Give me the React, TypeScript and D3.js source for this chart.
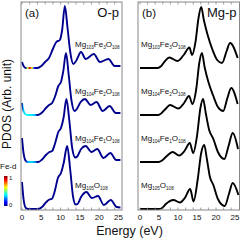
import React from 'react';
import * as d3 from 'd3';

// energy (eV), PDOS height (arb. units)
const oFe3 = [[0,0.6],[0.4,0.2],[1.0,0],[4.0,0],[5.0,0.2],[6.0,0.6],[7.0,1.0],[8.0,1.9],[8.9,2.6],[9.8,2.8],[10.4,3.8],[11.1,6.2],[11.8,4.0],[12.5,1.6],[13.3,0.4],[14.0,0.7],[15.3,1.6],[16.5,0.9],[18.6,1.4],[20.2,0.6],[22.4,0.9],[24.0,0.2],[25.5,0.2]];
const oFe2 = [[0,1.2],[0.4,0.4],[1.0,0.05],[1.6,0],[4.1,0],[5.2,0.25],[6.2,0.7],[7.0,1.0],[7.8,1.2],[8.6,1.9],[9.4,2.9],[10.1,3.3],[10.7,4.4],[11.4,6.2],[12.1,4.0],[12.8,1.5],[13.6,0.4],[14.2,0.6],[15.2,1.3],[16.3,1.6],[17.8,1.0],[19.3,1.3],[20.9,0.4],[22.7,0.9],[24.3,0.2],[25.5,0.2]];
const oFe1 = [[0,2.4],[0.4,0.9],[1.0,0.1],[1.6,0],[4.2,0],[5.2,0.25],[6.2,0.7],[7.1,1.0],[7.8,1.1],[8.6,1.9],[9.4,3.0],[10.1,3.4],[10.8,4.5],[11.5,6.3],[12.3,4.0],[13.0,1.4],[13.8,0.45],[14.3,0.55],[15.3,1.3],[16.5,1.6],[18.0,1.0],[19.5,1.3],[21.1,0.4],[22.9,0.9],[24.4,0.2],[25.5,0.2]];
const oMg = [[0,2.7],[0.4,1.0],[1.0,0.1],[1.6,0],[4.2,0],[5.2,0.2],[6.3,0.7],[7.1,0.95],[7.7,1.0],[8.5,1.8],[9.3,3.1],[10.1,3.6],[10.8,4.6],[11.7,6.3],[12.5,3.9],[13.2,1.3],[13.9,0.45],[14.4,0.5],[15.3,1.2],[16.7,1.7],[18.1,1.1],[19.7,1.3],[21.2,0.4],[23.0,0.9],[24.5,0.2],[25.5,0.15]];

const mgFe3 = [[0,0],[4.6,0],[5.6,0.2],[6.6,0.7],[7.7,1.05],[9.9,0.7],[11.5,1.3],[13.0,2.05],[13.7,1.3],[14.6,2.6],[15.4,5.0],[16.1,6.1],[16.8,4.8],[17.8,3.3],[19.1,1.8],[20.3,0.8],[21.6,0.5],[22.8,1.7],[23.7,2.5],[25.7,1.0]];
const mgFe2 = [[0,0],[4.8,0],[5.7,0.2],[6.7,0.6],[7.9,1.0],[10.1,0.65],[11.6,1.2],[12.9,1.9],[13.8,1.1],[14.8,2.6],[15.6,5.2],[16.3,6.2],[17.0,4.8],[18.0,3.3],[19.2,2.0],[20.5,0.8],[21.9,0.4],[23.0,1.7],[24.0,2.7],[25.7,1.1]];
const mgFe1 = [[0,0],[4.9,0],[5.8,0.15],[6.8,0.5],[8.6,1.0],[10.3,0.65],[11.7,1.1],[13.1,1.9],[14.0,0.9],[15.0,2.6],[15.9,5.4],[16.6,6.3],[17.3,4.9],[18.2,3.2],[19.3,2.3],[20.5,1.0],[22.2,0.3],[23.3,1.6],[24.4,2.9],[25.8,1.3]];
const mgMg = [[0,0],[5.0,0],[5.8,0.1],[6.8,0.5],[8.8,0.9],[10.5,0.65],[11.8,1.1],[13.2,2.0],[14.1,0.75],[15.2,3.0],[16.1,5.6],[16.9,6.4],[17.6,5.0],[18.4,3.2],[19.3,2.4],[20.5,1.0],[22.3,0.3],[23.4,1.5],[24.4,2.6],[25.9,1.4]];

// Fe-d weight along the O-p curves (0..1)
const wFe3 = [[0,0],[0.9,0],[1.4,0.55],[2.0,0.9],[2.6,0.6],[3.2,0.15],[3.7,0]];
const wFe2 = [[0,0],[0.3,0.3],[1.0,0.38],[2.5,0.36],[3.4,0.3],[4.0,0]];
const wFe1 = [[0,0],[1.0,0],[1.5,0.3],[2.6,0.34],[3.5,0.25],[4.0,0]];
const wMg: number[][] = [[0,0]];

const oCurves = [oFe3, oFe2, oFe1, oMg];
const mgCurves = [mgFe3, mgFe2, mgFe1, mgMg];
const weights = [wFe3, wFe2, wFe1, wMg];
const offsets = [14.1, 9.4, 4.7, 0];
const labels = [['Mg','103','Fe','3','O','108'], ['Mg','104','Fe','2','O','108'], ['Mg','104','Fe','1','O','108'], ['Mg','105','O','108']];
const xTicks = [0, 5, 10, 15, 20, 25];
const jetColors = ['#00008f', '#0000ff', '#00ffff', '#ffff00', '#ff0000', '#800000'];

const jet = d3.scaleLinear<string>().domain([0, 0.125, 0.375, 0.625, 0.875, 1]).range(jetColors);

const top = 2, bottom = 210;
const y = d3.scaleLinear().domain([-0.1, 20.7]).range([bottom, top]);
const xA = d3.scaleLinear().domain([0, 25]).range([22, 118.5]);
const xB = d3.scaleLinear().domain([0, 25]).range([140, 235]);
const frameA = [21, 122];
const frameB = [138, 239.5];
const font = 'Liberation Sans, Arial, Helvetica, sans-serif';

const Label = ({ parts, x, yy }: { parts: string[]; x: number; yy: number }) => (
  <text x={x} y={yy} fontSize={8} fontFamily={font} fill="#111">
    {parts.map((p, i) => i % 2 === 0
      ? <tspan key={i} dy={i === 0 ? 0 : -2}>{p}</tspan>
      : <tspan key={i} dy={2} fontSize={4.6}>{p}</tspan>)}
  </text>
);

const Panel = ({ x, frame, curves, id, colored, tag, title }: any) => {
  const ticks = d3.range(0, 26, 2);
  return (
    <g>
      <defs>
        <clipPath id={'clip' + id}>
          <rect x={frame[0]} y={top} width={frame[1] - frame[0]} height={bottom - top} />
        </clipPath>
        {colored && weights.map((w, i) => (
          <linearGradient key={i} id={`g${id}${i}`} gradientUnits="userSpaceOnUse" x1={x(0)} x2={x(26)} y1={0} y2={0}>
            {w.map((d, j) => (
              <stop key={j} offset={(x(d[0]) - x(0)) / (x(26) - x(0))} stopColor={jet(d[1])} />
            ))}
          </linearGradient>
        ))}
      </defs>
      <g clipPath={`url(#clip${id})`}>
        {curves.map((c: number[][], i: number) => {
          const line = d3.line<number[]>()
            .x(d => x(d[0]))
            .y(d => y(d[1] + offsets[i]))
            .curve(d3.curveMonotoneX);
          return <path key={i} d={line(c) || ''} fill="none"
            stroke={colored ? `url(#g${id}${i})` : '#000'} strokeWidth={1.9} strokeLinejoin="round" />;
        })}
      </g>
      <rect x={frame[0]} y={top} width={frame[1] - frame[0]} height={bottom - top} fill="none" stroke="#888" strokeWidth={1} />
      {ticks.map(t => (
        <g key={t}>
          <line x1={x(t)} x2={x(t)} y1={top} y2={top + 2.5} stroke="#888" strokeWidth={0.8} />
          <line x1={x(t)} x2={x(t)} y1={bottom} y2={bottom - 2.5} stroke="#888" strokeWidth={0.8} />
        </g>
      ))}
      {xTicks.map(t => (
        <text key={t} x={x(t)} y={220} fontSize={8} textAnchor="middle" fontFamily={font} fill="#111">{t}</text>
      ))}
      <text x={frame[0] + 4} y={17} fontSize={11.5} fontFamily={font} fill="#111">{tag}</text>
      <text x={frame[1] - 3} y={17} fontSize={13} textAnchor="end" fontFamily={font} fill="#111">{title}</text>
      {labels.map((l, i) => (
        <Label key={i} parts={l} x={id === 'a' ? 75 : 141} yy={46.5 + i * 47} />
      ))}
    </g>
  );
};

export default function App() {
  return (
    <svg width={241} height={241} style={{ position: 'absolute', left: 0, top: 0, background: '#fff' }}>
      <defs>
        <linearGradient id="cbar" x1="0" x2="0" y1="1" y2="0">
          {jetColors.map((c, i) => (
            <stop key={i} offset={[0, 0.125, 0.375, 0.625, 0.875, 1][i]} stopColor={c} />
          ))}
        </linearGradient>
      </defs>
      <Panel x={xA} frame={frameA} curves={oCurves} id="a" colored tag="(a)" title="O-p" />
      <Panel x={xB} frame={frameB} curves={mgCurves} id="b" colored={false} tag="(b)" title="Mg-p" />
      <text transform="translate(10.5,104) rotate(-90)" fontSize={12} textAnchor="middle" fontFamily={font} fill="#111">PDOS (Arb. unit)</text>
      <text x={129.5} y={235} fontSize={12.5} textAnchor="middle" fontFamily={font} fill="#111">Energy (eV)</text>
      <text x={0} y={169} fontSize={8} fontFamily={font} fill="#111">Fe-d</text>
      <rect x={4} y={176} width={3.5} height={30} fill="url(#cbar)" />
      <text x={9} y={180} fontSize={6} fontFamily={font} fill="#111">1</text>
      <text x={9} y={207} fontSize={6} fontFamily={font} fill="#111">0</text>
    </svg>
  );
}
